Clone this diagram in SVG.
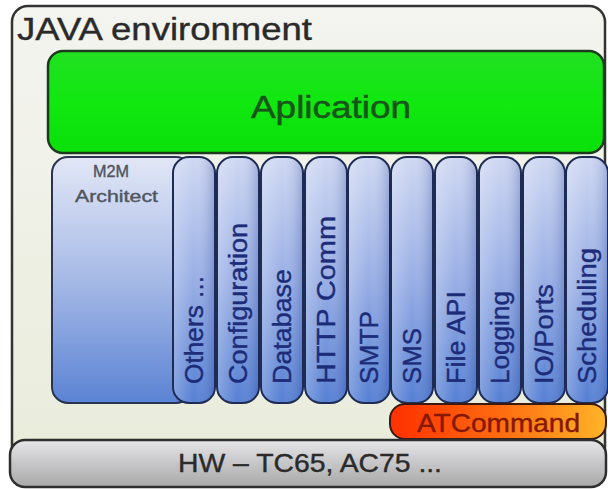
<svg xmlns="http://www.w3.org/2000/svg" width="608" height="489" viewBox="0 0 608 489">
  <defs>
    <linearGradient id="gOuter" x1="0" y1="0" x2="0" y2="1">
      <stop offset="0" stop-color="#f4f4f0"/>
      <stop offset="1" stop-color="#e9ecda"/>
    </linearGradient>
    <linearGradient id="gGreen" x1="0" y1="0" x2="0" y2="1">
      <stop offset="0" stop-color="#22e022"/>
      <stop offset="0.5" stop-color="#10e810"/>
      <stop offset="1" stop-color="#0ae00a"/>
    </linearGradient>
    <linearGradient id="gColV" x1="0" y1="0" x2="0" y2="1">
      <stop offset="0" stop-color="#cfd8f2"/>
      <stop offset="0.5" stop-color="#98aee5"/>
      <stop offset="1" stop-color="#557fd3"/>
    </linearGradient>
    <linearGradient id="gColH" x1="0" y1="0" x2="1" y2="0">
      <stop offset="0" stop-color="#ffffff" stop-opacity="0.25"/>
      <stop offset="0.5" stop-color="#ffffff" stop-opacity="0"/>
      <stop offset="1" stop-color="#203a90" stop-opacity="0.25"/>
    </linearGradient>
    <linearGradient id="gM2M" x1="0" y1="0" x2="0" y2="1">
      <stop offset="0" stop-color="#e2e7f6"/>
      <stop offset="0.5" stop-color="#a6b9e6"/>
      <stop offset="1" stop-color="#5b83d4"/>
    </linearGradient>
    <linearGradient id="gAT" x1="0" y1="0" x2="1" y2="0">
      <stop offset="0" stop-color="#ff3000"/>
      <stop offset="0.5" stop-color="#ff6a10"/>
      <stop offset="1" stop-color="#ffb428"/>
    </linearGradient>
    <linearGradient id="gHW" x1="0" y1="0" x2="0" y2="1">
      <stop offset="0" stop-color="#e6e6e8"/>
      <stop offset="0.5" stop-color="#c6c6c8"/>
      <stop offset="1" stop-color="#a8a8a8"/>
    </linearGradient>
  </defs>
  <style>
    .t { font-family: "Liberation Sans", Arial, sans-serif; }
    .col { fill: url(#gColV); stroke: #1e2c55; stroke-width: 2; }
    .colh { fill: url(#gColH); stroke: none; }
    .ct { font-family: "Liberation Sans", Arial, sans-serif; font-size: 26px; fill: #1c2c78; stroke: #1c2c78; stroke-width: 0.4; }
  </style>

  <g id="java-environment">
    <rect x="12" y="6" width="593" height="470" rx="16" fill="url(#gOuter)" stroke="#333333" stroke-width="2.5"/>
    <text class="t" x="17" y="40" font-size="31" fill="#2a2a2a" stroke="#2a2a2a" stroke-width="0.4" textLength="295" lengthAdjust="spacingAndGlyphs">JAVA environment</text>
  </g>

  <g id="aplication">
    <rect x="48" y="51" width="556" height="102" rx="15" fill="url(#gGreen)" stroke="#1c3a1c" stroke-width="2.5"/>
    <text class="t" x="251" y="118" font-size="31" fill="#17561a" stroke="#17561a" stroke-width="0.5" textLength="160" lengthAdjust="spacingAndGlyphs">Aplication</text>
  </g>

  <g id="m2m-architect">
    <rect x="52" y="157" width="140" height="246" rx="16" fill="url(#gM2M)" stroke="#2a3350" stroke-width="2"/>
    <text class="t" x="111" y="177" font-size="17" fill="#50555f" stroke="#50555f" stroke-width="0.4" text-anchor="middle" textLength="36" lengthAdjust="spacingAndGlyphs">M2M</text>
    <text class="t" x="75" y="202" font-size="17" fill="#50555f" stroke="#50555f" stroke-width="0.4" textLength="83" lengthAdjust="spacingAndGlyphs">Architect</text>
  </g>

  <g id="others">
    <rect class="col" x="173" y="157" width="42" height="246" rx="16"/>
    <rect class="colh" x="174" y="158" width="40" height="244" rx="15"/>
    <text class="ct" transform="translate(203,384) rotate(-90)" textLength="108" lengthAdjust="spacingAndGlyphs">Others ...</text>
  </g>
  <g id="configuration">
    <rect class="col" x="217" y="157" width="42" height="246" rx="16"/>
    <rect class="colh" x="218" y="158" width="40" height="244" rx="15"/>
    <text class="ct" transform="translate(247,384) rotate(-90)" textLength="161" lengthAdjust="spacingAndGlyphs">Configuration</text>
  </g>
  <g id="database">
    <rect class="col" x="261" y="157" width="42" height="246" rx="16"/>
    <rect class="colh" x="262" y="158" width="40" height="244" rx="15"/>
    <text class="ct" transform="translate(291,384) rotate(-90)" textLength="115" lengthAdjust="spacingAndGlyphs">Database</text>
  </g>
  <g id="http-comm">
    <rect class="col" x="305" y="157" width="42" height="246" rx="16"/>
    <rect class="colh" x="306" y="158" width="40" height="244" rx="15"/>
    <text class="ct" transform="translate(335,384) rotate(-90)" textLength="168" lengthAdjust="spacingAndGlyphs">HTTP Comm</text>
  </g>
  <g id="smtp">
    <rect class="col" x="348" y="157" width="42" height="246" rx="16"/>
    <rect class="colh" x="349" y="158" width="40" height="244" rx="15"/>
    <text class="ct" transform="translate(378,384) rotate(-90)" textLength="73" lengthAdjust="spacingAndGlyphs">SMTP</text>
  </g>
  <g id="sms">
    <rect class="col" x="391" y="157" width="42" height="246" rx="16"/>
    <rect class="colh" x="392" y="158" width="40" height="244" rx="15"/>
    <text class="ct" transform="translate(421,384) rotate(-90)" textLength="56" lengthAdjust="spacingAndGlyphs">SMS</text>
  </g>
  <g id="file-api">
    <rect class="col" x="435" y="157" width="42" height="246" rx="16"/>
    <rect class="colh" x="436" y="158" width="40" height="244" rx="15"/>
    <text class="ct" transform="translate(465,384) rotate(-90)" textLength="93" lengthAdjust="spacingAndGlyphs">File API</text>
  </g>
  <g id="logging">
    <rect class="col" x="479" y="157" width="42" height="246" rx="16"/>
    <rect class="colh" x="480" y="158" width="40" height="244" rx="15"/>
    <text class="ct" transform="translate(509,384) rotate(-90)" textLength="93" lengthAdjust="spacingAndGlyphs">Logging</text>
  </g>
  <g id="io-ports">
    <rect class="col" x="523" y="157" width="42" height="246" rx="16"/>
    <rect class="colh" x="524" y="158" width="40" height="244" rx="15"/>
    <text class="ct" transform="translate(553,384) rotate(-90)" textLength="100" lengthAdjust="spacingAndGlyphs">IO/Ports</text>
  </g>
  <g id="scheduling">
    <rect class="col" x="566" y="157" width="42" height="246" rx="16"/>
    <rect class="colh" x="567" y="158" width="40" height="244" rx="15"/>
    <text class="ct" transform="translate(596,384) rotate(-90)" textLength="136" lengthAdjust="spacingAndGlyphs">Scheduling</text>
  </g>

  <g id="atcommand">
    <rect x="390" y="404" width="216" height="35" rx="15" fill="url(#gAT)" stroke="#3a1a10" stroke-width="2"/>
    <text class="t" x="417" y="432" font-size="26" fill="#861800" stroke="#861800" stroke-width="0.4" textLength="163" lengthAdjust="spacingAndGlyphs">ATCommand</text>
  </g>

  <g id="hw">
    <rect x="10" y="440" width="596" height="47" rx="15" fill="url(#gHW)" stroke="#2e2e2e" stroke-width="2.5"/>
    <text class="t" x="178" y="472" font-size="26" fill="#2a2a2a" stroke="#2a2a2a" stroke-width="0.4" textLength="264" lengthAdjust="spacingAndGlyphs">HW – TC65, AC75 ...</text>
  </g>

  <g id="connectors"/>
</svg>
